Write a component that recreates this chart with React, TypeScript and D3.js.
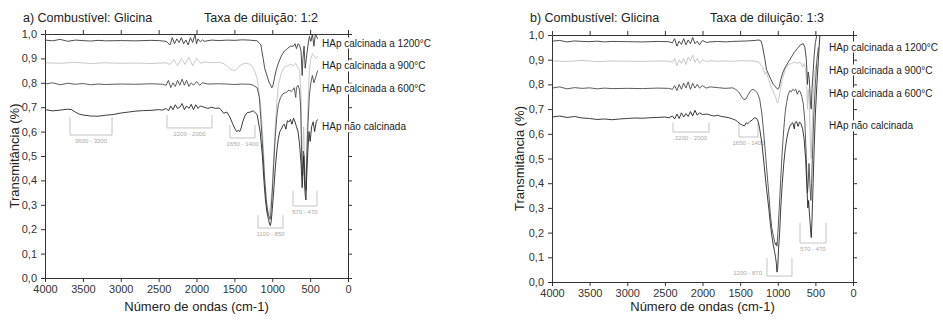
import { useEffect, useRef } from "react";
import * as d3 from "d3";

type Pt = [number, number];

// wavenumber (cm-1), transmittance
const a1200: Pt[] = [
  [4000, 0.975], [3900, 0.972], [3800, 0.978], [3700, 0.970], [3600, 0.975], [3500, 0.973], [3400, 0.971],
  [3300, 0.974], [3200, 0.972], [3000, 0.973], [2800, 0.972], [2600, 0.974], [2500, 0.973], [2400, 0.970],
  [2350, 0.955], [2320, 0.985], [2290, 0.960], [2260, 0.980], [2230, 0.965], [2200, 0.985], [2170, 0.960],
  [2140, 0.975], [2110, 0.955], [2080, 0.985], [2050, 0.965], [2020, 0.999], [2000, 0.960], [1980, 0.980],
  [1950, 0.968], [1920, 0.976], [1900, 0.970], [1800, 0.975], [1700, 0.973], [1600, 0.975], [1500, 0.974],
  [1400, 0.976], [1300, 0.975], [1200, 0.972], [1150, 0.955], [1120, 0.90], [1100, 0.86], [1080, 0.84],
  [1060, 0.82], [1040, 0.80], [1020, 0.79], [1005, 0.78], [990, 0.79], [970, 0.82], [950, 0.85], [920, 0.88],
  [880, 0.91], [840, 0.93], [800, 0.94], [760, 0.95], [720, 0.95], [700, 0.96], [680, 0.94], [660, 0.96],
  [640, 0.955], [620, 0.93], [605, 0.83], [595, 0.90], [580, 0.95], [565, 0.86], [550, 0.90], [530, 0.95],
  [510, 0.99], [490, 0.97], [470, 1.0], [450, 0.95], [430, 1.0], [400, 0.98],
];

const a900: Pt[] = [
  [4000, 0.882], [3800, 0.880], [3600, 0.884], [3400, 0.879], [3200, 0.882], [3000, 0.880], [2800, 0.881],
  [2600, 0.879], [2400, 0.882], [2350, 0.875], [2300, 0.895], [2250, 0.870], [2200, 0.900], [2150, 0.875],
  [2100, 0.905], [2050, 0.870], [2000, 0.900], [1950, 0.880], [1900, 0.885], [1800, 0.882], [1700, 0.884],
  [1650, 0.880], [1600, 0.870], [1550, 0.855], [1500, 0.850], [1470, 0.855], [1430, 0.870], [1380, 0.878],
  [1330, 0.880], [1290, 0.875], [1250, 0.860], [1200, 0.820], [1150, 0.700], [1120, 0.550], [1100, 0.420],
  [1080, 0.330], [1060, 0.280], [1040, 0.260], [1020, 0.300], [1000, 0.380], [980, 0.500], [960, 0.620],
  [940, 0.720], [920, 0.790], [880, 0.840], [840, 0.865], [800, 0.870], [760, 0.875], [720, 0.870],
  [690, 0.880], [660, 0.860], [640, 0.850], [620, 0.750], [605, 0.450], [595, 0.550], [585, 0.620],
  [570, 0.400], [560, 0.350], [550, 0.500], [530, 0.700], [510, 0.850], [490, 0.900], [470, 0.920],
  [450, 0.910], [420, 0.900], [400, 0.910],
];

const a600: Pt[] = [
  [4000, 0.795], [3900, 0.800], [3800, 0.792], [3700, 0.798], [3600, 0.794], [3500, 0.797], [3400, 0.792],
  [3300, 0.795], [3200, 0.793], [3000, 0.795], [2800, 0.794], [2600, 0.796], [2450, 0.794], [2400, 0.790],
  [2370, 0.810], [2340, 0.780], [2310, 0.800], [2280, 0.785], [2250, 0.810], [2220, 0.790], [2190, 0.815],
  [2160, 0.790], [2130, 0.810], [2100, 0.785], [2070, 0.800], [2040, 0.790], [2000, 0.805], [1960, 0.790],
  [1920, 0.800], [1850, 0.795], [1700, 0.796], [1600, 0.795], [1500, 0.793], [1400, 0.795], [1300, 0.794],
  [1250, 0.790], [1200, 0.780], [1170, 0.740], [1150, 0.650], [1120, 0.500], [1100, 0.400], [1080, 0.320],
  [1060, 0.270], [1040, 0.250], [1030, 0.240], [1020, 0.260], [1000, 0.350], [980, 0.470], [960, 0.580],
  [940, 0.660], [920, 0.710], [890, 0.740], [860, 0.755], [820, 0.760], [780, 0.770], [750, 0.765],
  [730, 0.770], [710, 0.780], [690, 0.740], [680, 0.780], [660, 0.790], [640, 0.770], [625, 0.700],
  [610, 0.480], [600, 0.420], [590, 0.520], [580, 0.500], [565, 0.380], [555, 0.360], [545, 0.480],
  [530, 0.620], [510, 0.750], [490, 0.800], [470, 0.830], [450, 0.800], [430, 0.820], [400, 0.850],
];

const aNao: Pt[] = [
  [4000, 0.690], [3900, 0.685], [3800, 0.688], [3700, 0.692], [3650, 0.690], [3600, 0.680], [3550, 0.672],
  [3500, 0.668], [3400, 0.664], [3300, 0.663], [3200, 0.667], [3100, 0.670], [3000, 0.676], [2900, 0.680],
  [2800, 0.684], [2700, 0.686], [2600, 0.687], [2500, 0.690], [2450, 0.688], [2400, 0.695], [2370, 0.685],
  [2340, 0.705], [2310, 0.690], [2280, 0.710], [2250, 0.695], [2220, 0.700], [2190, 0.715], [2160, 0.690],
  [2130, 0.705], [2100, 0.695], [2070, 0.712], [2040, 0.690], [2010, 0.710], [1980, 0.695], [1950, 0.705],
  [1900, 0.700], [1850, 0.695], [1800, 0.700], [1750, 0.695], [1700, 0.697], [1680, 0.690], [1640, 0.675],
  [1600, 0.680], [1560, 0.660], [1520, 0.630], [1490, 0.610], [1470, 0.600], [1450, 0.605], [1430, 0.600],
  [1410, 0.615], [1390, 0.640], [1360, 0.665], [1330, 0.678], [1290, 0.680], [1250, 0.685], [1200, 0.670],
  [1160, 0.600], [1130, 0.500], [1110, 0.400], [1090, 0.320], [1070, 0.270], [1050, 0.240], [1035, 0.220],
  [1025, 0.215], [1015, 0.230], [1000, 0.280], [980, 0.360], [960, 0.450], [940, 0.520], [920, 0.570],
  [900, 0.600], [880, 0.610], [860, 0.625], [840, 0.630], [820, 0.610], [800, 0.645], [780, 0.640],
  [760, 0.650], [740, 0.630], [720, 0.655], [700, 0.640], [680, 0.620], [660, 0.600], [640, 0.550],
  [620, 0.470], [605, 0.370], [595, 0.440], [585, 0.500], [575, 0.400], [565, 0.340], [555, 0.320],
  [545, 0.420], [530, 0.520], [515, 0.600], [500, 0.560], [480, 0.620], [460, 0.640], [440, 0.600],
  [420, 0.640], [400, 0.650],
];

const b1200: Pt[] = [
  [4000, 0.975], [3900, 0.978], [3800, 0.972], [3700, 0.976], [3600, 0.974], [3500, 0.973], [3400, 0.975],
  [3300, 0.972], [3200, 0.974], [3000, 0.973], [2800, 0.972], [2600, 0.974], [2450, 0.973], [2400, 0.968],
  [2370, 0.985], [2340, 0.955], [2310, 0.975], [2280, 0.962], [2250, 0.985], [2220, 0.960], [2190, 0.980],
  [2160, 0.965], [2130, 0.990], [2100, 0.965], [2070, 0.975], [2040, 0.960], [2000, 0.978], [1950, 0.970],
  [1900, 0.972], [1800, 0.974], [1700, 0.972], [1600, 0.974], [1500, 0.975], [1400, 0.976], [1300, 0.978],
  [1250, 0.980], [1220, 0.975], [1200, 0.950], [1170, 0.900], [1150, 0.860], [1120, 0.840], [1090, 0.820],
  [1060, 0.800], [1030, 0.790], [1000, 0.780], [980, 0.790], [960, 0.820], [930, 0.850], [900, 0.870],
  [860, 0.890], [820, 0.910], [780, 0.930], [740, 0.945], [700, 0.960], [660, 0.965], [640, 0.950],
  [620, 0.900], [605, 0.800], [595, 0.850], [580, 0.820], [565, 0.720], [555, 0.700], [545, 0.780],
  [530, 0.850], [515, 0.920], [500, 0.970], [480, 1.0],
];

const b900: Pt[] = [
  [4000, 0.895], [3800, 0.893], [3600, 0.897], [3400, 0.892], [3200, 0.895], [3000, 0.894], [2800, 0.893],
  [2600, 0.895], [2450, 0.894], [2400, 0.890], [2370, 0.905], [2340, 0.875], [2310, 0.900], [2280, 0.885],
  [2250, 0.905], [2220, 0.880], [2190, 0.910], [2160, 0.895], [2130, 0.920], [2100, 0.890], [2070, 0.905],
  [2040, 0.885], [2000, 0.900], [1950, 0.892], [1900, 0.896], [1800, 0.894], [1700, 0.895], [1600, 0.893],
  [1500, 0.896], [1400, 0.895], [1300, 0.894], [1250, 0.890], [1200, 0.870], [1170, 0.840], [1150, 0.850],
  [1120, 0.820], [1090, 0.790], [1060, 0.770], [1030, 0.750], [1010, 0.730], [1000, 0.725], [990, 0.735],
  [970, 0.770], [940, 0.820], [900, 0.860], [860, 0.880], [820, 0.885], [780, 0.890], [740, 0.885],
  [700, 0.890], [670, 0.870], [650, 0.885], [630, 0.860], [615, 0.800], [605, 0.700], [595, 0.780],
  [580, 0.720], [565, 0.550], [555, 0.500], [545, 0.600], [530, 0.750], [510, 0.850], [490, 0.880],
];

const b600: Pt[] = [
  [4000, 0.785], [3900, 0.790], [3800, 0.782], [3700, 0.787], [3600, 0.784], [3500, 0.786], [3400, 0.782],
  [3300, 0.785], [3200, 0.783], [3000, 0.784], [2800, 0.783], [2600, 0.785], [2450, 0.784], [2400, 0.780],
  [2370, 0.795], [2340, 0.775], [2310, 0.800], [2280, 0.780], [2250, 0.805], [2220, 0.785], [2190, 0.810],
  [2160, 0.780], [2130, 0.805], [2100, 0.785], [2070, 0.800], [2040, 0.785], [2000, 0.795], [1950, 0.785],
  [1900, 0.790], [1800, 0.787], [1700, 0.784], [1600, 0.786], [1560, 0.780], [1520, 0.770], [1480, 0.750],
  [1450, 0.738], [1420, 0.742], [1390, 0.760], [1360, 0.775], [1330, 0.780], [1300, 0.775], [1270, 0.765],
  [1240, 0.740], [1210, 0.680], [1180, 0.580], [1150, 0.470], [1120, 0.360], [1100, 0.280], [1080, 0.220],
  [1060, 0.190], [1040, 0.160], [1030, 0.150], [1020, 0.160], [1010, 0.145], [1000, 0.190], [980, 0.300],
  [960, 0.420], [940, 0.530], [920, 0.620], [900, 0.690], [880, 0.730], [860, 0.760], [840, 0.775],
  [820, 0.770], [800, 0.780], [780, 0.775], [760, 0.780], [740, 0.760], [720, 0.775], [700, 0.770],
  [680, 0.750], [660, 0.720], [640, 0.650], [620, 0.500], [605, 0.360], [595, 0.400], [585, 0.480],
  [570, 0.380], [560, 0.330], [550, 0.400], [535, 0.550], [520, 0.680], [500, 0.800], [480, 0.900],
  [460, 0.950],
];

const bNao: Pt[] = [
  [4000, 0.668], [3900, 0.672], [3800, 0.666], [3700, 0.670], [3600, 0.664], [3500, 0.662], [3400, 0.658],
  [3300, 0.660], [3200, 0.657], [3100, 0.660], [3000, 0.662], [2900, 0.664], [2800, 0.663], [2700, 0.665],
  [2600, 0.666], [2500, 0.668], [2450, 0.665], [2400, 0.672], [2370, 0.660], [2340, 0.680], [2310, 0.662],
  [2280, 0.685], [2250, 0.668], [2220, 0.682], [2190, 0.670], [2160, 0.690], [2130, 0.672], [2100, 0.695],
  [2070, 0.675], [2040, 0.685], [2000, 0.678], [1950, 0.680], [1900, 0.676], [1850, 0.672], [1800, 0.675],
  [1750, 0.670], [1700, 0.668], [1650, 0.665], [1600, 0.660], [1560, 0.655], [1530, 0.648], [1500, 0.640],
  [1470, 0.635], [1440, 0.632], [1420, 0.645], [1400, 0.640], [1370, 0.650], [1340, 0.655], [1310, 0.665],
  [1280, 0.662], [1260, 0.650], [1240, 0.620], [1210, 0.560], [1180, 0.470], [1150, 0.380], [1120, 0.300],
  [1100, 0.240], [1080, 0.190], [1060, 0.150], [1040, 0.120], [1030, 0.100], [1020, 0.080], [1010, 0.040],
  [1000, 0.060], [990, 0.130], [975, 0.200], [960, 0.300], [940, 0.400], [920, 0.480], [900, 0.540],
  [880, 0.580], [860, 0.610], [840, 0.630], [820, 0.640], [800, 0.645], [780, 0.620], [770, 0.645],
  [750, 0.650], [730, 0.630], [710, 0.648], [690, 0.640], [670, 0.620], [650, 0.580], [630, 0.500],
  [615, 0.400], [600, 0.300], [590, 0.330], [580, 0.280], [565, 0.220], [555, 0.180], [545, 0.250],
  [530, 0.400], [515, 0.550], [500, 0.680], [480, 0.800], [460, 0.900], [440, 1.0],
];

const seriesNames = ["HAp calcinada a 1200°C", "HAp calcinada a 900°C", "HAp calcinada a 600°C", "HAp não calcinada"];
const seriesColors = ["#3a3a3a", "#c2c2c2", "#4a4a4a", "#262626"];
// label heights (transmittance units) for each panel
const aLabelY = [0.963, 0.869, 0.775, 0.619];
const bLabelY = [0.951, 0.858, 0.765, 0.632];

const xTicks = [4000, 3500, 3000, 2500, 2000, 1500, 1000, 500, 0];
const yTicks = [0, 0.1, 0.2, 0.3, 0.4, 0.5, 0.6, 0.7, 0.8, 0.9, 1.0];

interface Bracket { from: number; to: number; top: number; bottom: number; label: string; side: "below" | "left" }

const aBrackets: Bracket[] = [
  { from: 3670, to: 3115, top: 0.66, bottom: 0.586, label: "3600 - 3200", side: "below" },
  { from: 2390, to: 1796, top: 0.668, bottom: 0.615, label: "2200 - 2000", side: "below" },
  { from: 1558, to: 1228, top: 0.627, bottom: 0.574, label: "1650 - 1400", side: "below" },
  { from: 1188, to: 858, top: 0.258, bottom: 0.205, label: "1100 - 850", side: "below" },
  { from: 726, to: 410, top: 0.357, bottom: 0.295, label: "570 - 470", side: "below" },
];

const bBrackets: Bracket[] = [
  { from: 2392, to: 1914, top: 0.644, bottom: 0.607, label: "2200 - 2000", side: "below" },
  { from: 1515, to: 1263, top: 0.644, bottom: 0.587, label: "1650 - 1400", side: "below" },
  { from: 1143, to: 811, top: 0.097, bottom: 0.024, label: "1200 - 870", side: "left" },
  { from: 704, to: 359, top: 0.24, bottom: 0.158, label: "570 - 470", side: "below" },
];

const font = "'Liberation Sans', Arial, sans-serif";
const comma = d3.formatLocale({ decimal: ",", thousands: ".", grouping: [3], currency: ["", ""] }).format(".1f");

interface PanelCfg {
  x0: number; x1: number; y0: number; y1: number;
  title: string; ratio: string; ratioX: number; titleX: number;
  yTitleX: number;
  series: Pt[][];
  labelY: number[];
  labelDx: number;
  brackets: Bracket[];
}

const panels: PanelCfg[] = [
  {
    x0: 45, x1: 348, y0: 34, y1: 278,
    title: "a) Combustível: Glicina", titleX: 23, ratio: "Taxa de diluição: 1:2", ratioX: 204,
    yTitleX: 15,
    series: [a1200, a900, a600, aNao], labelY: aLabelY, labelDx: -26, brackets: aBrackets,
  },
  {
    x0: 552, x1: 853, y0: 35, y1: 282,
    title: "b) Combustível: Glicina", titleX: 530, ratio: "Taxa de diluição: 1:3", ratioX: 710,
    yTitleX: 520,
    series: [b1200, b900, b600, bNao], labelY: bLabelY, labelDx: -24, brackets: bBrackets,
  },
];

function drawPanel(svg: d3.Selection<SVGSVGElement, unknown, null, undefined>, p: PanelCfg) {
  const x = d3.scaleLinear().domain([4000, 0]).range([p.x0, p.x1]);
  const y = d3.scaleLinear().domain([0, 1]).range([p.y1, p.y0]);
  const g = svg.append("g").style("font-family", font);

  // brackets
  p.brackets.forEach((b) => {
    g.append("path")
      .attr("d", `M${x(b.from)},${y(b.top)}V${y(b.bottom)}H${x(b.to)}V${y(b.top)}`)
      .attr("fill", "none").attr("stroke", "#c4c4c4").attr("stroke-width", 1);
    const t = g.append("text").attr("font-size", 6).attr("fill", "#a8a8a8").text(b.label);
    if (b.side === "below") {
      t.attr("x", (x(b.from) + x(b.to)) / 2).attr("y", y(b.bottom) + 8).attr("text-anchor", "middle");
    } else {
      t.attr("x", x(b.from) - 5).attr("y", y(b.bottom) - 1).attr("text-anchor", "end");
    }
  });

  // spectra, light one first
  const line = d3.line<Pt>().x((d) => x(d[0])).y((d) => y(d[1]));
  [1, 0, 2, 3].forEach((i) => {
    g.append("path").datum(p.series[i])
      .attr("d", line)
      .attr("fill", "none")
      .attr("stroke", seriesColors[i])
      .attr("stroke-width", 0.9)
      .attr("stroke-linejoin", "round");
  });

  // axes
  const axColor = "#333";
  const minorX = d3.range(4000, -1, -100);
  const minorY = d3.range(0, 1.001, 0.02);
  const styleAxis = (sel: any) => {
    sel.select(".domain").attr("stroke", axColor);
    sel.selectAll(".tick line").attr("stroke", axColor);
    sel.selectAll("text").attr("fill", "#333").style("font-family", font);
  };

  const bottom = g.append("g").attr("transform", `translate(0,${p.y1})`);
  bottom.call(d3.axisBottom(x).tickValues(minorX).tickSize(2).tickFormat(() => "").tickSizeOuter(0));
  bottom.call(d3.axisBottom(x).tickValues(xTicks).tickSize(4).tickSizeOuter(0).tickPadding(3).tickFormat(d3.format("d")))
    .attr("font-size", 11);
  styleAxis(bottom);

  const top = g.append("g").attr("transform", `translate(0,${p.y0})`);
  top.call(d3.axisTop(x).tickValues(minorX).tickSize(2).tickFormat(() => "").tickSizeOuter(0));
  top.call(d3.axisTop(x).tickValues(xTicks).tickSize(4).tickFormat(() => "").tickSizeOuter(0));
  styleAxis(top);

  const left = g.append("g").attr("transform", `translate(${p.x0},0)`);
  left.call(d3.axisLeft(y).tickValues(minorY).tickSize(2).tickFormat(() => "").tickSizeOuter(0));
  left.call(d3.axisLeft(y).tickValues(yTicks).tickSize(4).tickSizeOuter(0).tickPadding(4).tickFormat((d) => comma(+d)))
    .attr("font-size", 11);
  styleAxis(left);

  const right = g.append("g").attr("transform", `translate(${p.x1},0)`);
  right.call(d3.axisRight(y).tickValues(minorY).tickSize(2).tickFormat(() => "").tickSizeOuter(0));
  right.call(d3.axisRight(y).tickValues(yTicks).tickSize(4).tickFormat(() => "").tickSizeOuter(0));
  styleAxis(right);

  // titles
  g.append("text").attr("x", p.titleX).attr("y", 22).attr("font-size", 12.5).attr("fill", "#222").text(p.title);
  g.append("text").attr("x", p.ratioX).attr("y", 22).attr("font-size", 12.5).attr("fill", "#222").text(p.ratio);
  g.append("text")
    .attr("transform", `translate(${p.yTitleX + 4},${(p.y0 + p.y1) / 2}) rotate(-90)`)
    .attr("text-anchor", "middle").attr("font-size", 13).attr("fill", "#222")
    .text("Transmitância (%)");
  g.append("text")
    .attr("x", (p.x0 + p.x1) / 2).attr("y", 311)
    .attr("text-anchor", "middle").attr("font-size", 13).attr("fill", "#222")
    .text("Número de ondas (cm-1)");

  // series labels sit over the right axis with a white backing
  seriesNames.forEach((name, i) => {
    const lg = g.append("g");
    const t = lg.append("text")
      .attr("x", p.x1 + p.labelDx).attr("y", y(p.labelY[i]))
      .attr("dy", "0.35em").attr("font-size", 10).attr("fill", "#222")
      .text(name);
    const bb = (t.node() as SVGTextElement).getBBox();
    lg.insert("rect", "text")
      .attr("x", bb.x - 1).attr("y", bb.y).attr("width", bb.width + 2).attr("height", bb.height)
      .attr("fill", "white");
  });
}

export default function App() {
  const ref = useRef<SVGSVGElement>(null);

  useEffect(() => {
    const svg = d3.select(ref.current!);
    svg.selectAll("*").remove();
    panels.forEach((p) => drawPanel(svg as any, p));
    return () => {
      svg.selectAll("*").remove();
    };
  }, [ref]);

  return (
    <svg
      ref={ref}
      width={943}
      height={320}
      style={{ position: "absolute", left: 0, top: 0, background: "white" }}
    />
  );
}
